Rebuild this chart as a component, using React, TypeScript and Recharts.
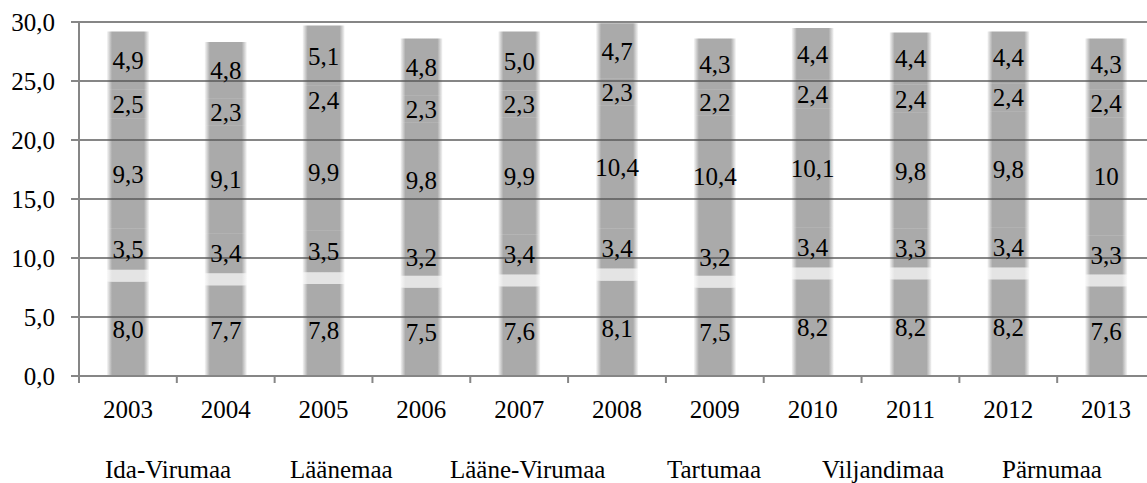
import { BarChart, Bar, XAxis, YAxis, CartesianGrid, LabelList, Legend } from "recharts";

const years = ["2003", "2004", "2005", "2006", "2007", "2008", "2009", "2010", "2011", "2012", "2013"];

const idaVirumaa = [8.0, 7.7, 7.8, 7.5, 7.6, 8.1, 7.5, 8.2, 8.2, 8.2, 7.6];
const laanemaa = [1.0, 1.0, 1.0, 1.0, 1.0, 1.0, 1.0, 1.0, 1.0, 1.0, 1.0];
const laaneVirumaa = [3.5, 3.4, 3.5, 3.2, 3.4, 3.4, 3.2, 3.4, 3.3, 3.4, 3.3];
const tartumaa = [9.3, 9.1, 9.9, 9.8, 9.9, 10.4, 10.4, 10.1, 9.8, 9.8, 10];
const viljandimaa = [2.5, 2.3, 2.4, 2.3, 2.3, 2.3, 2.2, 2.4, 2.4, 2.4, 2.4];
const parnumaa = [4.9, 4.8, 5.1, 4.8, 5.0, 4.7, 4.3, 4.4, 4.4, 4.4, 4.3];

const seriesNames = ["Ida-Virumaa", "Läänemaa", "Lääne-Virumaa", "Tartumaa", "Viljandimaa", "Pärnumaa"];
const yTicks = [0, 5, 10, 15, 20, 25, 30];

const data = years.map((year, i) => ({
  year,
  s0: idaVirumaa[i],
  s1: laanemaa[i],
  s2: laaneVirumaa[i],
  s3: tartumaa[i],
  s4: viljandimaa[i],
  s5: parnumaa[i],
}));

// label format per series: "fixed" = 0,0 ; "general" = as is ; null = no labels
const series: { key: string; fill: string; fmt: "fixed" | "general" | null }[] = [
  { key: "s0", fill: "url(#barGrey)", fmt: "fixed" },
  { key: "s1", fill: "url(#barLight)", fmt: null },
  { key: "s2", fill: "url(#barGrey)", fmt: "general" },
  { key: "s3", fill: "url(#barGrey)", fmt: "general" },
  { key: "s4", fill: "url(#barGrey)", fmt: "general" },
  { key: "s5", fill: "url(#barGrey)", fmt: "fixed" },
];

const FONT = "'Liberation Serif', 'Times New Roman', serif";
const GRID = "#868686";
const CHART_W = 1160;
const Y_W = 79;
const RIGHT = 5;
const BAND = (CHART_W - Y_W - RIGHT) / years.length;
const legendLeft = [105, 290, 450, 667, 822, 1002];

const comma = (v: number, fmt: "fixed" | "general") =>
  (fmt === "fixed" ? v.toFixed(1) : String(v)).replace(".", ",");

const XTick = (props: any) => {
  const { x, y, payload, index } = props;
  const half = BAND / 2;
  return (
    <g>
      {index === 0 && <line x1={x - half} x2={x - half} y1={y} y2={y + 7} stroke={GRID} strokeWidth={2} />}
      <line x1={x + half} x2={x + half} y1={y} y2={y + 7} stroke={GRID} strokeWidth={2} />
      <text x={x} y={y + 42} textAnchor="middle" fill="#000" fontSize={25}>
        {payload.value}
      </text>
    </g>
  );
};

const LegendText = () => (
  <div style={{ position: "relative", height: 45, fontSize: 25, color: "#000" }}>
    {seriesNames.map((n, i) => (
      <span key={n} style={{ position: "absolute", left: legendLeft[i], top: 19, lineHeight: "25px", whiteSpace: "nowrap" }}>
        {n}
      </span>
    ))}
  </div>
);

export default function App() {
  return (
    <div className="chart-box" style={{ position: "absolute", left: 0, top: 0, width: 1147, height: 483, overflow: "hidden", background: "#fff" }}>
      <style>{`.chart-box, .chart-box text, .chart-box tspan { font-family: ${FONT} !important; }`}</style>
      <BarChart width={CHART_W} height={483} data={data} margin={{ top: 22, right: RIGHT, left: 0, bottom: 0 }}>
        <defs>
          <linearGradient id="barGrey" x1="0" y1="0" x2="1" y2="0">
            <stop offset="0" stopColor="#555" stopOpacity={0.05} />
            <stop offset="0.12" stopColor="#555" stopOpacity={0.5} />
            <stop offset="0.88" stopColor="#555" stopOpacity={0.5} />
            <stop offset="1" stopColor="#555" stopOpacity={0.05} />
          </linearGradient>
          <linearGradient id="barLight" x1="0" y1="0" x2="1" y2="0">
            <stop offset="0" stopColor="#e4e4e4" stopOpacity={0.2} />
            <stop offset="0.12" stopColor="#e4e4e4" stopOpacity={1} />
            <stop offset="0.88" stopColor="#e4e4e4" stopOpacity={1} />
            <stop offset="1" stopColor="#e4e4e4" stopOpacity={0.2} />
          </linearGradient>
        </defs>
        <CartesianGrid vertical={false} stroke={GRID} strokeWidth={2} />
        <XAxis
          dataKey="year"
          height={62}
          axisLine={{ stroke: GRID, strokeWidth: 2 }}
          tickLine={false}
          tickSize={0}
          tickMargin={0}
          tick={<XTick />}
          interval={0}
        />
        <YAxis
          width={Y_W}
          domain={[0, 30]}
          ticks={yTicks}
          axisLine={{ stroke: GRID, strokeWidth: 2 }}
          tickLine={{ stroke: GRID, strokeWidth: 2 }}
          tickSize={8}
          tickMargin={16}
          tick={{ fill: "#000", fontSize: 25 }}
          tickFormatter={(v: number) => v.toFixed(1).replace(".", ",")}
        />
        <Legend verticalAlign="bottom" height={45} content={<LegendText />} wrapperStyle={{ left: 0, bottom: 0, width: CHART_W, height: 45 }} />
        {series.map((s, i) => (
          <Bar key={s.key} dataKey={s.key} name={seriesNames[i]} stackId="a" barSize={42} fill={s.fill} isAnimationActive={false}>
            {s.fmt && (
              <LabelList
                dataKey={s.key}
                position="center"
                formatter={(v: any) => comma(Number(v), s.fmt!)}
                fill="#000"
                fontSize={25}
              />
            )}
          </Bar>
        ))}
      </BarChart>
    </div>
  );
}
